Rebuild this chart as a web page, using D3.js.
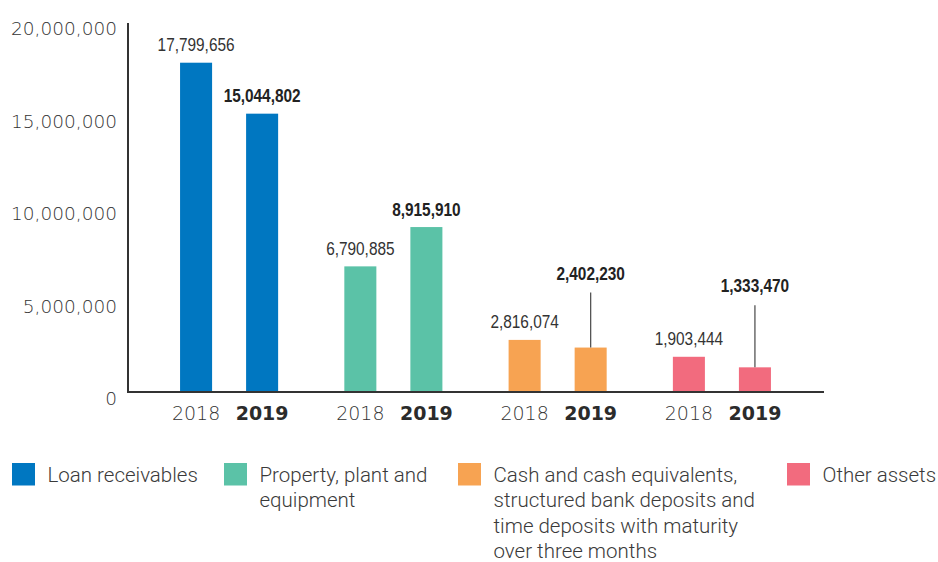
<!DOCTYPE html>
<html>
<head>
<meta charset="utf-8">
<script src="https://cdn.jsdelivr.net/npm/d3@7"></script>
<style>
  html, body { margin: 0; padding: 0; background: #fff; }
  svg { display: block; }
  .tick-label { font-family: "DejaVu Sans", sans-serif; font-weight: 200; font-size: 18.5px; fill: #333; }
  .year-2018 { font-family: "DejaVu Sans", sans-serif; font-weight: 200; font-size: 19px; fill: #333; }
  .year-2019 { font-family: "DejaVu Sans", sans-serif; font-weight: 700; font-size: 19px; fill: #2b2b2b; }
  .val { font-family: "Liberation Sans", Arial, sans-serif; font-size: 19px; fill: #333; }
  .val.bold { font-weight: 700; fill: #222; }
  .legend-text { font-family: Roboto, "Liberation Sans", sans-serif; font-weight: 300; font-size: 20.5px; fill: #3a3a3a; }
</style>
</head>
<body>
<svg id="chart" width="938" height="562"></svg>
<script>
// Asset categories and their values for the two reporting years
const categories = [
  "Loan receivables",
  "Property, plant and equipment",
  "Cash and cash equivalents, structured bank deposits and time deposits with maturity over three months",
  "Other assets"
];
const years = ["2018", "2019"];
const values2018 = [17799656, 6790885, 2816074, 1903444];
const values2019 = [15044802, 8915910, 2402230, 1333470];
const colors = ["#0077c1", "#5bc2a7", "#f7a352", "#f26b7e"];
const yTicks = [0, 5000000, 10000000, 15000000, 20000000];
const legendLines = [
  ["Loan receivables"],
  ["Property, plant and", "equipment"],
  ["Cash and cash equivalents,", "structured bank deposits and", "time deposits with maturity", "over three months"],
  ["Other assets"]
];

// Layout
const svg = d3.select("#chart");
const plot = { left: 128, right: 824, top: 22, bottom: 392 };
const fmt = d3.format(",");
const narrow = 0.81; // horizontal squeeze for the condensed value labels

// 2019 labels that sit higher and point to their bar with a leader line
const leaderLift = { 2: 68, 3: 75 };

const y = d3.scaleLinear().domain([0, 20000000]).range([plot.bottom, plot.top]);
const x0 = d3.scaleBand().domain(d3.range(categories.length))
  .range([plot.left - 1, plot.right]).paddingInner(0.403).paddingOuter(0.323);
const x1 = d3.scaleBand().domain(years).range([0, x0.bandwidth()]).paddingInner(0.515);

const rows = categories.map((c, i) => ({
  i, name: c, color: colors[i],
  items: [
    { year: "2018", value: values2018[i] },
    { year: "2019", value: values2019[i] }
  ]
}));

// Bars
const groups = svg.append("g").selectAll("g").data(rows).join("g")
  .attr("transform", d => `translate(${x0(d.i)},0)`);

groups.selectAll("rect").data(d => d.items.map(it => ({ ...it, color: d.color, i: d.i })))
  .join("rect")
  .attr("x", d => x1(d.year))
  .attr("width", x1.bandwidth())
  .attr("y", d => y(d.value))
  .attr("height", d => y(0) - y(d.value))
  .attr("fill", d => d.color);

// Value labels (with leader lines where the label is lifted)
groups.each(function (d) {
  const g = d3.select(this);
  d.items.forEach(it => {
    const cx = x1(it.year) + x1.bandwidth() / 2;
    const lift = (it.year === "2019" && leaderLift[d.i]) ? leaderLift[d.i] : null;
    const base = lift ? y(it.value) - lift : y(it.value) - 11.5;
    if (lift) {
      g.append("line")
        .attr("x1", cx).attr("x2", cx)
        .attr("y1", base + 13).attr("y2", y(it.value))
        .attr("stroke", "#555").attr("stroke-width", 1.3);
    }
    g.append("text")
      .attr("class", it.year === "2019" ? "val bold" : "val")
      .attr("transform", `translate(${cx},${base}) scale(${narrow},1)`)
      .attr("text-anchor", "middle")
      .text(fmt(it.value));
  });
  // Year labels under the axis
  d.items.forEach(it => {
    g.append("text")
      .attr("class", it.year === "2019" ? "year-2019" : "year-2018")
      .attr("x", x1(it.year) + x1.bandwidth() / 2)
      .attr("y", plot.bottom + 27.5)
      .attr("text-anchor", "middle")
      .text(it.year);
  });
});

// Y axis labels
const yAxis = d3.axisLeft(y).tickValues(yTicks).tickSize(0).tickPadding(11).tickFormat(fmt);
const ya = svg.append("g").attr("transform", `translate(${plot.left},0)`).call(yAxis);
ya.select(".domain").remove();
ya.selectAll("text").attr("class", "tick-label").attr("dy", "12.5").attr("font-family", null).attr("font-size", null).attr("fill", null);

// Axis lines
svg.append("line").attr("x1", plot.left).attr("x2", plot.left)
  .attr("y1", plot.top + 1).attr("y2", plot.bottom + 1)
  .attr("stroke", "#333").attr("stroke-width", 2);
svg.append("line").attr("x1", plot.left - 1).attr("x2", plot.right)
  .attr("y1", plot.bottom).attr("y2", plot.bottom)
  .attr("stroke", "#333").attr("stroke-width", 2);

// Legend
const legendX = [12, 224, 458, 787];
const legend = svg.append("g").selectAll("g").data(rows).join("g")
  .attr("transform", d => `translate(${legendX[d.i]},463)`);
legend.append("rect").attr("width", 23).attr("height", 22.5).attr("fill", d => d.color);
legend.append("text").attr("class", "legend-text")
  .selectAll("tspan").data(d => legendLines[d.i]).join("tspan")
  .attr("x", 35.5).attr("y", (l, k) => 19 + k * 25.3)
  .text(l => l);
</script>
</body>
</html>
